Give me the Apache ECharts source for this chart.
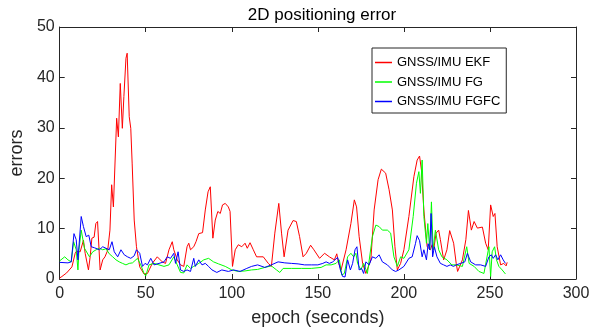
<!DOCTYPE html>
<html><head><meta charset="utf-8">
<script src="https://cdn.jsdelivr.net/npm/echarts@6/dist/echarts.min.js"></script>
<style>html,body{margin:0;padding:0;background:#fff}#c{width:608px;height:333px}</style>
</head><body><div id="c"></div>
<script>
const seriesNames = ['GNSS/IMU EKF', 'GNSS/IMU FG', 'GNSS/IMU FGFC'];
const xTicks = [0, 50, 100, 150, 200, 250, 300];
const yTicks = [0, 10, 20, 30, 40, 50];

// [epoch (s), error]
const ekf = [[0,0.2],[1.3,0.5],[4,1.2],[7.1,2.4],[9,5.1],[9.7,5.5],[11.9,5.4],[13.8,7.7],[14.8,5.1],[16.7,1.8],[17.7,4.4],[18.7,8.1],[20,8.3],[21,11.0],[22,11.4],[23.5,1.8],[25,3.8],[26.3,4.4],[27.9,5.7],[29.2,9.7],[30.2,18.7],[31.2,14.3],[33.1,31.9],[34.1,28.2],[35.2,38.8],[36.4,29.9],[37.3,36.2],[38.5,43.8],[39.2,44.8],[40.4,32.2],[41.3,29.9],[42.1,23],[43.3,11.7],[44.6,6.4],[46.5,2.4],[49,1.0],[51,1.1],[53.8,3.1],[56.7,4.4],[59.6,3.4],[61.5,3.1],[63.5,5.8],[65.4,7.4],[66.3,5.8],[67.3,6.1],[68.3,3.8],[70.2,2.8],[72.1,2.5],[74,6.4],[75,7.1],[76,5.8],[77.9,6.4],[79.2,7.4],[80.8,9.0],[83,9.2],[84.6,13.7],[86.2,17.3],[87.5,18.3],[89,8.1],[90.4,11.7],[91.9,13.4],[93.3,13.0],[94.6,14.7],[96.2,15.0],[98,14.3],[99,13.4],[100.4,2.5],[102,5.8],[103.8,6.8],[105.8,6.4],[107.7,7.1],[109,6.1],[110.6,7.2],[112.5,5.8],[114.4,4.4],[118.3,4.4],[121.2,3.1],[123,2.5],[125,9.1],[127.3,15.0],[128.9,9.1],[130.4,4.4],[132.7,9.7],[135.6,11.6],[137.5,11.4],[139.4,8.4],[141.4,4.4],[143.3,5.1],[145.8,6.7],[147.7,5.8],[151,4.1],[153.9,5.1],[156.7,4.4],[159.6,3.8],[161,5.0],[162.1,3.1],[163.5,1.8],[166.4,5.8],[169.2,11.0],[171.2,15.7],[172.5,14.3],[174,8.4],[176,3.1],[177.9,1.1],[180.8,3.8],[182.7,13.7],[185,19.7],[186.9,21.8],[189.4,21.0],[191.4,17.7],[193.3,13.7],[194.8,6.4],[196.2,1.8],[198.1,3.1],[200,5.8],[202.9,12.4],[205.8,20.3],[207.7,23.6],[209.1,24.4],[210.2,21.6],[211.6,13.7],[213.5,6.4],[215.4,5.8],[216.4,6.8],[217.3,5.8],[218.7,9.1],[220.2,9.7],[221.2,7.8],[223.1,3.8],[225,5.8],[226.6,9.6],[228.9,7.1],[230.4,3.1],[231.2,1.5],[234,3.8],[236,7.8],[237.5,13.6],[239.2,9.7],[240.8,11.4],[242.7,10.1],[245.6,10.3],[247.5,7.1],[249,5.8],[250.4,14.7],[251.9,12.4],[252.9,13.0],[254.2,6.4],[256.2,2.8],[258,3.1],[259.4,2.6],[260,3.3]];

const fg = [[0,3.6],[1,3.8],[2.9,4.4],[4.8,3.8],[6.7,3.4],[8.1,7.4],[9.6,5.8],[10.6,1.8],[11.2,5.8],[12.5,9.7],[14.4,6.1],[17.3,4.4],[19.2,5.4],[21.2,5.8],[23.1,6.1],[25,5.8],[26.9,6.0],[28.8,5.0],[30.8,4.4],[32.7,3.8],[34.6,3.4],[36.5,3.1],[38.5,2.8],[40.4,3.1],[42.3,3.2],[45.2,4.1],[47.1,2.8],[49,1.1],[50,0.6],[51.9,2.8],[54.8,3.1],[57.7,2.8],[60.6,2.5],[63.5,2.8],[66.3,4.4],[68.3,2.8],[70.2,1.3],[72.1,1.2],[74,2.8],[76,2.1],[77.9,2.5],[80.8,3.1],[83.7,3.8],[86.5,4.1],[89.4,3.4],[92.3,3.0],[96.2,2.5],[100,1.8],[103.8,1.5],[107.7,1.6],[111.5,1.8],[115,1.9],[119.2,2.3],[123,2.6],[126,1.8],[127.9,1.3],[129.8,2.1],[134.6,2.1],[140.4,2.1],[146.2,2.1],[151.9,2.3],[154.8,2.8],[157.7,2.8],[160.6,3.1],[162.5,3.8],[163.9,0.8],[165.4,1.1],[167.3,4.4],[169.2,5.1],[170.8,4.4],[172.1,5.1],[173.1,3.1],[175,1.8],[176.6,3.1],[178.8,1.1],[181.7,8.4],[183.7,10.7],[185.6,10.4],[187.5,9.7],[190.4,9.7],[192.3,9.1],[194.2,4.4],[196.2,2.5],[198.1,4.4],[200,4.1],[202.9,5.8],[205.4,12.4],[207.3,19.0],[208.7,21.3],[209.6,17.0],[210.6,23.6],[211.6,12.4],[213.1,7.1],[213.9,11.0],[215,5.8],[216,15.3],[217,5.8],[218.3,9.7],[220.2,5.8],[222.1,4.4],[225,3.8],[227.9,2.8],[230.4,2.8],[231.2,2.8],[234,2.5],[236.5,6.4],[237.9,3.1],[240.8,2.5],[243.6,1.5],[246.5,1.1],[249.4,6.4],[250.4,0.5],[251.3,5.4],[252.7,6.4],[253.8,3.8],[255.2,2.5],[257.1,1.8],[259,1.0]];

const fgfc = [[0,3.3],[1,3.4],[4.8,3.2],[6.7,3.4],[8.3,9.0],[9.6,7.8],[10.6,3.8],[12.5,12.4],[13.8,10.4],[15.4,8.4],[16.9,8.7],[18.3,6.4],[20.2,6.2],[23.1,5.8],[25,6.4],[26.9,6.1],[28.8,5.8],[30.4,7.4],[31.7,5.4],[33.7,4.4],[35.6,5.8],[37.5,4.8],[39.4,4.4],[41.3,4.1],[43.3,4.6],[44.6,5.8],[46.5,5.1],[48.1,2.5],[49.6,3.1],[51,2.8],[52.9,4.1],[54.8,2.8],[57.7,3.1],[60.6,3.4],[62.5,4.4],[64.4,4.1],[66.3,5.1],[67.3,3.1],[68.8,5.4],[70.2,1.8],[72.1,1.5],[74,1.8],[76,1.5],[77.9,4.1],[78.8,2.5],[80.8,3.8],[82.7,2.8],[84.6,3.1],[86.5,2.5],[88.5,1.8],[91.3,1.3],[94.2,1.8],[98,1.5],[101,1.8],[104.8,1.5],[108.7,2.1],[111.5,2.5],[115,2.8],[119.2,2.3],[123,2.8],[126.9,3.4],[130.8,3.2],[134.6,3.1],[138.5,3.0],[142.3,2.8],[146.2,2.8],[150,2.8],[152.9,3.1],[154.8,3.4],[156.7,3.1],[158.7,3.4],[161.5,4.3],[163.1,1.8],[164.4,0.5],[165.8,0.4],[167.3,3.8],[168.9,1.8],[170.2,3.1],[171.6,5.8],[172.7,6.4],[174,1.8],[175.4,2.1],[176.6,1.1],[177.9,3.4],[179.8,2.8],[181.7,4.4],[183.7,4.1],[185.6,4.8],[187.5,3.4],[190.4,2.8],[193.3,1.8],[195.2,1.5],[197.1,1.8],[200,2.5],[202.9,4.1],[204.8,4.4],[206.7,7.0],[207.7,8.6],[209.1,7.6],[210.6,4.4],[211.6,5.8],[213.1,3.8],[214.1,7.0],[215,5.8],[215.8,13.0],[216.7,4.4],[217.7,6.4],[219.2,4.4],[221.2,3.1],[223.1,2.8],[225,2.5],[226.9,2.8],[228.8,2.5],[230.4,2.8],[231.2,2.8],[233,3.1],[235.4,3.4],[236.9,5.1],[238.8,3.4],[241.7,2.8],[244.6,2.8],[247.5,2.5],[249.4,4.4],[250.8,4.8],[251.9,4.1],[253.3,4.8],[254.6,3.8],[256.2,4.8],[257.7,3.8],[259,3.1]];

const seriesData = [ekf, fg, fgfc];
const colors = ['#ff0000', '#00ff00', '#0000ff'];

const ink = '#262626';
const font = 'Liberation Sans, Arial, sans-serif';
function boxAxis(extra) {
  return Object.assign({
    type: 'value',
    axisLine: { show: true, onZero: false, lineStyle: { color: ink, width: 1 } },
    axisTick: { show: true, inside: true, length: 5, lineStyle: { color: ink } },
    splitLine: { show: false },
    axisLabel: { show: false }
  }, extra);
}
const xmin = xTicks[0], xmax = xTicks[xTicks.length - 1], xint = xTicks[1] - xTicks[0];
const ymin = yTicks[0], ymax = yTicks[yTicks.length - 1], yint = yTicks[1] - yTicks[0];

const chart = echarts.init(document.getElementById('c'), null, { renderer: 'canvas' });
chart.setOption({
  animation: false,
  backgroundColor: '#fff',
  title: {
    text: '2D positioning error', left: 317, top: 2, textAlign: 'center',
    textStyle: { fontSize: 17, fontWeight: 'normal', color: '#000', fontFamily: font }
  },
  grid: { left: 56, top: 27, width: 520, height: 252, containLabel: false },
  xAxis: [
    boxAxis({ min: xmin, max: xmax, interval: xint, position: 'bottom',
      name: 'epoch (seconds)', nameLocation: 'middle', nameGap: 30,
      nameTextStyle: { fontSize: 18, color: ink, fontFamily: font },
      axisLabel: { show: true, fontSize: 16, color: ink, margin: 7, fontFamily: font } }),
    boxAxis({ min: xmin, max: xmax, interval: xint, position: 'top' })
  ],
  yAxis: [
    boxAxis({ min: ymin, max: ymax, interval: yint, position: 'left',
      name: 'errors', nameLocation: 'middle', nameGap: 25, nameRotate: 90,
      nameTextStyle: { fontSize: 18, color: ink, fontFamily: font },
      axisLabel: { show: true, fontSize: 16, color: ink, margin: 5, fontFamily: font } }),
    boxAxis({ min: ymin, max: ymax, interval: yint, position: 'right' })
  ],
  legend: {
    orient: 'vertical', left: 372, top: 48,
    backgroundColor: '#fff', borderColor: ink, borderWidth: 1,
    padding: [8, 6, 5, 3], itemGap: 6.5, itemWidth: 17, itemHeight: 1.5,
    icon: 'rect',
    textStyle: { fontSize: 13, color: '#000', fontFamily: font },
    data: seriesNames
  },
  series: seriesNames.map((n, i) => ({
    name: n, type: 'line', data: seriesData[i], showSymbol: false, symbol: 'none',
    lineStyle: { width: 1, color: colors[i] }, itemStyle: { color: colors[i] },
    z: 2 + i
  }))
});
</script>
</body></html>
